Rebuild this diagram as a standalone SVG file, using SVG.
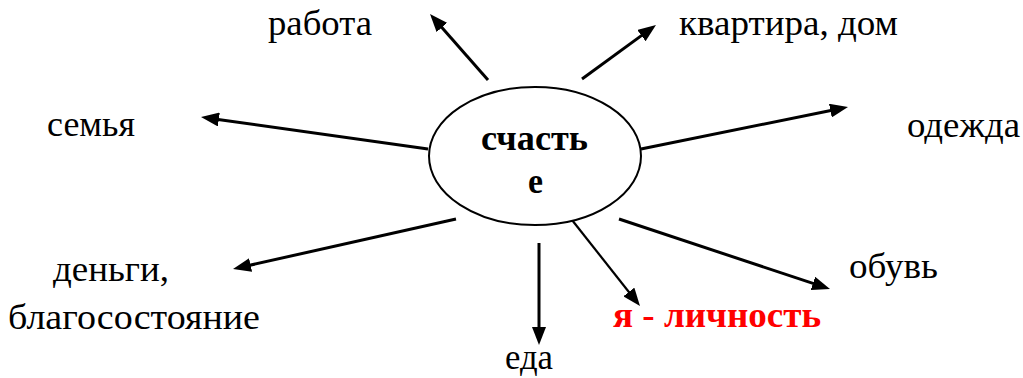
<svg xmlns="http://www.w3.org/2000/svg" width="1023" height="378" viewBox="0 0 1023 378">
<style>
text{font-family:'Liberation Serif','DejaVu Serif','Times New Roman',serif}
.lbl{font-size:35px;fill:#000}
.ctr{font-size:36px;font-weight:bold;fill:#000}
.red{font-size:35px;font-weight:bold;fill:#ff0000}
.con{stroke:#000;stroke-width:3;fill:none;marker-end:url(#ah)}
</style>
<defs>
<marker id="ah" markerUnits="userSpaceOnUse" markerWidth="18" markerHeight="14" refX="8" refY="7" orient="auto">
<path d="M0,0 L18,7 L0,14 z" fill="#000"/>
</marker>
</defs>
<rect width="1023" height="378" fill="#fff"/>
<g id="connectors">
<line class="con" x1="488" y1="80" x2="436.6" y2="21.5"/>
<line class="con" x1="582" y1="79" x2="647.9" y2="30.9"/>
<line class="con" x1="428" y1="149" x2="210.9" y2="118.4"/>
<line class="con" x1="641" y1="149" x2="838.2" y2="109"/>
<line class="con" x1="456" y1="219" x2="242.8" y2="266.8"/>
<line class="con" x1="539" y1="243" x2="539" y2="335"/>
<line class="con" style="stroke-width:2.2" x1="572" y1="220" x2="633.8" y2="298.2"/>
<line class="con" x1="619" y1="219" x2="820.5" y2="285.9"/>
</g>
<g id="center">
<ellipse cx="535" cy="156" rx="106" ry="69" fill="#fff" stroke="#000" stroke-width="2"/>
<text class="ctr" font-family="Liberation Serif, serif" x="481" y="150" textLength="107" lengthAdjust="spacingAndGlyphs">счасть</text>
<text class="ctr" font-family="Liberation Serif, serif" x="528" y="193" textLength="15" lengthAdjust="spacingAndGlyphs">е</text>
</g>
<g id="rabota"><text class="lbl" font-family="Liberation Serif, serif" x="268" y="35" textLength="104" lengthAdjust="spacingAndGlyphs">работа</text></g>
<g id="kvartira"><text class="lbl" font-family="Liberation Serif, serif" x="679" y="35" textLength="219" lengthAdjust="spacingAndGlyphs">квартира, дом</text></g>
<g id="semya"><text class="lbl" font-family="Liberation Serif, serif" x="47" y="136" textLength="88" lengthAdjust="spacingAndGlyphs">семья</text></g>
<g id="odezhda"><text class="lbl" font-family="Liberation Serif, serif" x="907" y="137" textLength="113" lengthAdjust="spacingAndGlyphs">одежда</text></g>
<g id="dengi">
<text class="lbl" font-family="Liberation Serif, serif" x="53" y="281" textLength="116" lengthAdjust="spacingAndGlyphs">деньги,</text>
<text class="lbl" font-family="Liberation Serif, serif" x="8" y="329" textLength="252" lengthAdjust="spacingAndGlyphs">благосостояние</text>
</g>
<g id="eda"><text class="lbl" font-family="Liberation Serif, serif" x="505" y="369" textLength="48" lengthAdjust="spacingAndGlyphs">еда</text></g>
<g id="lichnost"><text class="red" font-family="Liberation Serif, serif" x="613" y="327" textLength="208" lengthAdjust="spacingAndGlyphs">я - личность</text></g>
<g id="obuv"><text class="lbl" font-family="Liberation Serif, serif" x="849" y="278" textLength="89" lengthAdjust="spacingAndGlyphs">обувь</text></g>
</svg>
